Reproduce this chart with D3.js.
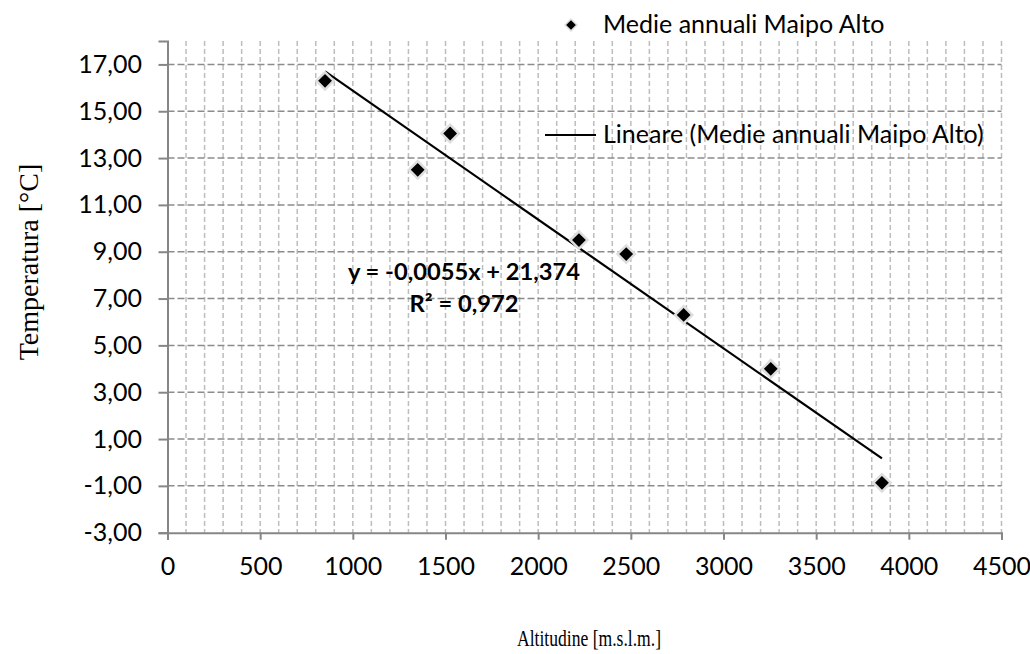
<!DOCTYPE html>
<html>
<head>
<meta charset="utf-8">
<script src="https://cdn.jsdelivr.net/npm/d3@7"></script>
<style>
  body { margin: 0; background: #fff; }
  svg { display: block; }
</style>
</head>
<body>
<div id="chart"></div>
<script>
// Data
const altitude = [850, 1350, 1525, 2220, 2475, 2785, 3255, 3855];
const temperature = [16.3, 12.5, 14.05, 9.5, 8.9, 6.3, 4.0, -0.87];
const trendCoef = [-0.0055, 21.374]; // slope, intercept
const xTicks = [0, 500, 1000, 1500, 2000, 2500, 3000, 3500, 4000, 4500];
const yTicks = [-3, -1, 1, 3, 5, 7, 9, 11, 13, 15, 17];
const seriesName = "Medie annuali Maipo Alto";
const trendName = "Lineare (Medie annuali Maipo Alto)";
const equationLines = ["y = -0,0055x + 21,374", "R² = 0,972"];

const width = 1030, height = 654;
const margin = { top: 41, right: 28.5, bottom: 121.3, left: 167.5 };
const sans = "Lato, 'Open Sans', sans-serif";
const serif = "'Liberation Serif', 'Times New Roman', serif";

const svg = d3.select("#chart")
  .append("svg")
  .attr("width", width)
  .attr("height", height);

const xScale = d3.scaleLinear().domain([0, 4500]).range([margin.left, width - margin.right]);
const yScale = d3.scaleLinear().domain([-3, 18]).range([height - margin.bottom, margin.top]);

const itLocale = d3.formatLocale({ decimal: ",", thousands: ".", grouping: [3], currency: ["", ""], minus: "-" });
const fmtY = itLocale.format(".2f");

// vertical minor grid every 100
const vGrid = d3.range(100, 4501, 100);
svg.append("g")
  .selectAll("line")
  .data(vGrid)
  .enter()
  .append("line")
  .attr("x1", (d) => xScale(d))
  .attr("x2", (d) => xScale(d))
  .attr("y1", yScale(18))
  .attr("y2", yScale(-3))
  .attr("stroke", "#bdbdbd")
  .attr("stroke-width", 1.5)
  .attr("stroke-dasharray", "5,3");

// horizontal major grid
svg.append("g")
  .selectAll("line")
  .data(yTicks.filter((d) => d > -3))
  .enter()
  .append("line")
  .attr("x1", xScale(0))
  .attr("x2", xScale(4500))
  .attr("y1", (d) => yScale(d))
  .attr("y2", (d) => yScale(d))
  .attr("stroke", "#8c8c8c")
  .attr("stroke-width", 1.5)
  .attr("stroke-dasharray", "7,3");

// axes
const yAxis = d3.axisLeft(yScale).tickValues(yTicks).tickFormat(fmtY).tickSize(9).tickPadding(16.5);
const xAxis = d3.axisBottom(xScale).tickValues(xTicks).tickFormat(d3.format("d")).tickSize(7).tickPadding(17.5);

const gy = svg.append("g").attr("transform", `translate(${margin.left},0)`).call(yAxis);
const gx = svg.append("g").attr("transform", `translate(0,${yScale(-3)})`).call(xAxis);

[gx, gy].forEach((g) => {
  g.select(".domain").attr("stroke", "#868686").attr("stroke-width", 2);
  g.selectAll(".tick line").attr("stroke", "#868686").attr("stroke-width", 2);
  g.selectAll(".tick text")
    .attr("fill", "#000")
    .style("font-family", sans)
    .style("font-size", "25px");
});

// trend line
const trendX = d3.extent(altitude);
const line = d3.line()
  .x((d) => xScale(d))
  .y((d) => yScale(trendCoef[0] * d + trendCoef[1]));
svg.append("path")
  .datum(trendX)
  .attr("d", line)
  .attr("fill", "none")
  .attr("stroke", "#000")
  .attr("stroke-width", 2.2);

// points (diamonds)
const diamond = d3.symbol().type(d3.symbolSquare).size(150);
svg.append("g")
  .selectAll("path")
  .data(altitude.map((a, i) => ({ x: a, y: temperature[i] })))
  .enter()
  .append("path")
  .attr("d", diamond)
  .attr("transform", (d) => `translate(${xScale(d.x)},${yScale(d.y)}) rotate(45)`)
  .attr("fill", "#000")
  .attr("stroke", "#dedede")
  .attr("stroke-width", 2.5);

// equation label
svg.append("text")
  .attr("text-anchor", "middle")
  .style("font-family", sans)
  .style("font-size", "23.7px")
  .style("font-weight", "bold")
  .selectAll("tspan")
  .data(equationLines)
  .enter()
  .append("tspan")
  .attr("x", 464)
  .attr("y", (d, i) => 280 + i * 31.5)
  .text((d) => d);

// legend
const legend = svg.append("g")
  .style("font-family", sans)
  .style("font-size", "25px");
legend.append("path")
  .attr("d", d3.symbol().type(d3.symbolSquare).size(70))
  .attr("transform", "translate(571,25) rotate(45)")
  .attr("fill", "#000")
  .attr("stroke", "#dedede")
  .attr("stroke-width", 1.5);
legend.append("text").attr("x", 603).attr("y", 33).text(seriesName);
legend.append("line")
  .attr("x1", 545).attr("x2", 596)
  .attr("y1", 135).attr("y2", 135)
  .attr("stroke", "#000").attr("stroke-width", 2.2);
legend.append("text").attr("x", 603).attr("y", 143).text(trendName);

// axis titles
svg.append("text")
  .attr("transform", `translate(38,262) rotate(-90)`)
  .attr("text-anchor", "middle")
  .style("font-family", serif)
  .style("font-size", "28px")
  .text("Temperatura [°C]");

svg.append("text")
  .attr("x", 517)
  .attr("y", 646)
  .attr("textLength", 144)
  .attr("lengthAdjust", "spacingAndGlyphs")
  .style("font-family", serif)
  .style("font-size", "24px")
  .text("Altitudine [m.s.l.m.]");
</script>
</body>
</html>
